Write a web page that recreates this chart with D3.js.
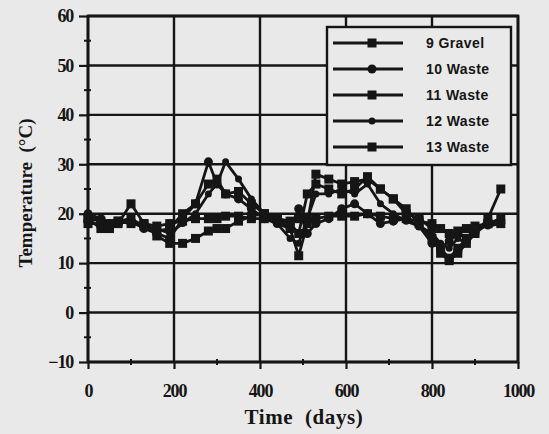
<!DOCTYPE html>
<html>
<head>
<meta charset="utf-8">
<script src="https://cdn.jsdelivr.net/npm/d3@7"></script>
<style>
  body { margin: 0; background: #e9e9e9; }
  svg { display: block; }
</style>
</head>
<body>
<div id="chart"></div>
<script>
// sampling days (shared by all series)
const days = [0, 30, 50, 70, 100, 130, 160, 190, 220, 250, 280, 300, 320, 350, 380, 410, 440, 470, 490,
  510, 530, 560, 590, 620, 650, 680, 710, 740, 770, 800, 820, 840, 860, 880, 900, 930, 960];

const gravel9 = [19, 18.5, 18, 18.5, 18, 18, 17.5, 18, 18.5, 19, 19, 19, 19.5, 19.5, 19, 19, 19, 18.5, 19,
  19, 19, 19.5, 19.5, 19.5, 20, 19.5, 19, 19, 18.5, 18, 17, 16, 16.5, 17, 17.5, 18, 18];
const waste10 = [20, 19, 18, 18, 18.5, 17, 16, 15, 19, 22, 30.5, 26, 24, 23, 21, 19, 18, 17, 21,
  16, 18, 19, 21, 22, 20, 18, 18.5, 19, 17.5, 14, 13, 14.5, 16, 15, 16, 18, 18];
const waste11 = [19, 17, 17.5, 18, 22, 18, 15.5, 14, 14, 15, 16.5, 17, 17, 18.5, 19.5, 20, 19, 17, 11.5,
  18, 28, 27, 26, 26.5, 27, 25, 23, 20, 19, 17, 12, 10.5, 12, 14, 16, 19, 25];
const waste12 = [19.5, 18.5, 18, 18.5, 18, 17.5, 17, 16, 18, 20, 24, 26, 30.5, 27, 23, 20, 18, 15, 14,
  19, 24, 24, 25, 24, 26, 22, 20, 18.5, 17.5, 16, 14, 13, 15, 14, 17, 17.5, 18];
const waste13 = [18, 18, 17, 18.5, 19, 17.5, 16.5, 17, 20, 22, 26, 27, 24, 24.5, 22, 20, 19, 18, 16,
  24, 26, 25, 24, 25, 27.5, 25, 23, 21, 18, 15, 13, 11, 13, 15, 17, 18, 19];

const seriesNames = ['9 Gravel', '10 Waste', '11 Waste', '12 Waste', '13 Waste'];
const seriesValues = [gravel9, waste10, waste11, waste12, waste13];
const seriesMarkers = ['square', 'circle', 'square', 'smallcircle', 'square'];

const xTicks = [0, 200, 400, 600, 800, 1000];
const yTicks = [-10, 0, 10, 20, 30, 40, 50, 60];

const W = 549, H = 434;
const margin = {top: 16, right: 31, bottom: 72, left: 88};
const width = W - margin.left - margin.right,
      height = H - margin.top - margin.bottom;

const svg = d3.select('#chart').append('svg')
    .attr('width', W).attr('height', H);

const g = svg.append('g')
    .attr('transform', 'translate(' + margin.left + ',' + margin.top + ')');

const x = d3.scaleLinear().domain([0, 1000]).range([0, width]);
const y = d3.scaleLinear().domain([-10, 60]).range([height, 0]);

const ink = '#151515';
const serif = '"Liberation Serif", "DejaVu Serif", serif';

// grid
g.selectAll('.gx').data(xTicks).enter().append('line')
    .attr('x1', d => x(d)).attr('x2', d => x(d))
    .attr('y1', 0).attr('y2', height)
    .attr('stroke', ink).attr('stroke-width', 2.4);
g.selectAll('.gy').data(yTicks).enter().append('line')
    .attr('x1', 0).attr('x2', width)
    .attr('y1', d => y(d)).attr('y2', d => y(d))
    .attr('stroke', ink).attr('stroke-width', 2.4);

// axes
const xAxis = g.append('g')
    .attr('transform', 'translate(0,' + height + ')')
    .call(d3.axisBottom(x).tickValues(xTicks).tickSize(7).tickPadding(15).tickFormat(d3.format('d')));
const yAxis = g.append('g')
    .call(d3.axisLeft(y).tickValues(yTicks).tickSize(9).tickPadding(6).tickFormat(d3.format('d')));

[xAxis, yAxis].forEach(a => {
  a.select('.domain').remove();
  a.selectAll('line').attr('stroke', ink).attr('stroke-width', 2.2);
  a.selectAll('text')
    .attr('fill', ink)
    .style('font-family', serif)
    .style('font-weight', 'bold')
    .style('font-size', '18px')
    .style('letter-spacing', '-1.2px');
});

// minor ticks
const xMinor = d3.range(100, 1000, 200);
const yMinor = d3.range(-5, 60, 10);
g.selectAll('.mx').data(xMinor).enter().append('line')
    .attr('x1', d => x(d)).attr('x2', d => x(d))
    .attr('y1', height - 3).attr('y2', height + 3)
    .attr('stroke', ink).attr('stroke-width', 2);
g.selectAll('.my').data(yMinor).enter().append('line')
    .attr('x1', -4).attr('x2', 3)
    .attr('y1', d => y(d)).attr('y2', d => y(d))
    .attr('stroke', ink).attr('stroke-width', 2);

// frame
g.append('rect')
    .attr('width', width).attr('height', height)
    .attr('fill', 'none').attr('stroke', ink).attr('stroke-width', 2.8);

// series lines
const line = d3.line()
    .x((d, i) => x(days[i]))
    .y(d => y(d));

const plot = g.append('g');
seriesValues.forEach((vals, k) => {
  plot.append('path')
      .datum(vals)
      .attr('fill', 'none')
      .attr('stroke', ink)
      .attr('stroke-width', 2.8)
      .attr('stroke-linejoin', 'round')
      .attr('d', line);
});

function drawMarker(sel, type, cx, cy) {
  if (type === 'square') {
    sel.append('rect')
      .attr('x', cx - 4.5).attr('y', cy - 4.5)
      .attr('width', 9).attr('height', 9)
      .attr('fill', ink);
  } else {
    sel.append('circle')
      .attr('cx', cx).attr('cy', cy)
      .attr('r', type === 'circle' ? 4.5 : 3.5)
      .attr('fill', ink);
  }
}

seriesValues.forEach((vals, k) => {
  vals.forEach((v, i) => drawMarker(plot, seriesMarkers[k], x(days[i]), y(v)));
});

// legend
const lg = svg.append('g').attr('transform', 'translate(327,27)');
lg.append('rect')
    .attr('width', 184).attr('height', 138)
    .attr('fill', '#e9e9e9').attr('stroke', ink).attr('stroke-width', 2.4);
seriesNames.forEach((name, k) => {
  const yy = 16 + k * 26;
  lg.append('line')
      .attr('x1', 6).attr('x2', 76).attr('y1', yy).attr('y2', yy)
      .attr('stroke', ink).attr('stroke-width', 2.8);
  drawMarker(lg, seriesMarkers[k], 45, yy);
  lg.append('text')
      .attr('x', 99).attr('y', yy + 5)
      .attr('fill', ink)
      .style('font-family', '"Liberation Sans", Arial, sans-serif')
      .style('font-weight', 'bold')
      .style('font-size', '14px')
      .style('letter-spacing', '0.4px')
      .text(name);
});

// axis titles
svg.append('text')
    .attr('x', 304).attr('y', 424)
    .attr('text-anchor', 'middle')
    .attr('fill', ink)
    .style('font-family', serif)
    .style('font-weight', 'bold')
    .style('font-size', '21px')
    .style('letter-spacing', '0.6px')
    .style('white-space', 'pre')
    .text('Time  (days)');

svg.append('text')
    .attr('transform', 'translate(32,' + 193 + ') rotate(-90)')
    .attr('text-anchor', 'middle')
    .attr('fill', ink)
    .style('font-family', serif)
    .style('font-weight', 'bold')
    .style('font-size', '19px')
    .style('white-space', 'pre')
    .text('Temperature  (°C)');
</script>
</body>
</html>
